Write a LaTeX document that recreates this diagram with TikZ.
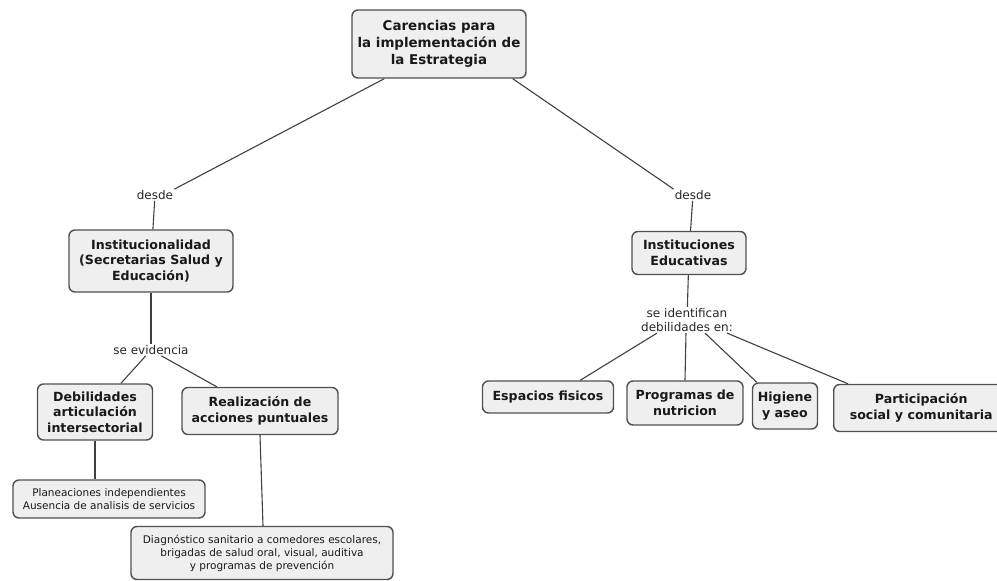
\documentclass[tikz,border=0pt]{standalone}
\usepackage{fontspec}
\setmainfont{DejaVu Sans}
\usetikzlibrary{calc}
\definecolor{boxfill}{HTML}{EFEFEF}
\definecolor{boxdraw}{HTML}{505050}
\definecolor{linec}{HTML}{404040}
\begin{document}
\begin{tikzpicture}[x=1pt,y=-1pt,
  concept/.style={draw=boxdraw,fill=boxfill,line width=1.4pt,rounded corners=6pt,align=center,font=\fontsize{12.6}{15.5}\selectfont\bfseries,inner sep=2pt,text=black!90},
  small/.style={draw=boxdraw,fill=boxfill,line width=1.4pt,rounded corners=6pt,align=center,font=\fontsize{10.5}{13}\selectfont,inner sep=2pt,text=black!90},
  linklbl/.style={align=center,font=\fontsize{12}{14.5}\selectfont,inner sep=1pt,text=black!85},
  conn/.style={draw=linec,line width=1.1pt}]
\useasboundingbox (0,0) rectangle (997,581);
\node[concept,minimum width=174pt,minimum height=68pt,font=\fontsize{13.4}{17}\selectfont\bfseries] (top) at (439,44) {Carencias para\\la implementación de\\la Estrategia};
\node[linklbl] (d1) at (155,195) {desde};
\node[concept,minimum width=164pt,minimum height=62pt] (inst) at (151,261) {Institucionalidad\\(Secretarias Salud y\\Educación)};
\node[linklbl] (ev) at (151,350) {se evidencia};
\node[concept,minimum width=115pt,minimum height=56pt] (deb) at (95,412) {Debilidades\\articulación\\intersectorial};
\node[concept,minimum width=156pt,minimum height=47pt] (real) at (260,411) {Realización de\\acciones puntuales};
\node[small,minimum width=192pt,minimum height=38pt] (plan) at (109,499) {Planeaciones independientes\\Ausencia de analisis de servicios};
\node[small,minimum width=262pt,minimum height=53pt] (diag) at (262,553) {Diagnóstico sanitario a comedores escolares,\\brigadas de salud oral, visual, auditiva\\y programas de prevención};
\node[linklbl] (d2) at (693,195) {desde};
\node[concept,minimum width=114pt,minimum height=43pt] (ie) at (689,253) {Instituciones\\Educativas};
\node[linklbl] (ident) at (687,320) {se identifican\\debilidades en:};
\node[concept,minimum width=131pt,minimum height=32pt] (esp) at (548,397) {Espacios fisicos};
\node[concept,minimum width=116pt,minimum height=44pt] (prog) at (685,403) {Programas de\\nutricion};
\node[concept,minimum width=65pt,minimum height=46pt] (hig) at (785,406) {Higiene\\y aseo};
\node[concept,minimum width=175pt,minimum height=47pt,anchor=west] (part) at (833,408) {Participación\\social y comunitaria};
\coordinate (t1) at ($(top.south west)+(33,0)$);
\coordinate (t2) at ($(top.south east)+(-14,0)$);
\draw[conn] (t1) -- (d1.north east);
\draw[conn] (t2) -- (d2.north west);
\draw[conn] (d1) -- (inst);
\draw[conn] (inst) -- (ev);
\draw[conn] (ev) -- (deb);
\draw[conn] (ev) -- (real);
\draw[conn] (deb.south) -- (deb.south |- plan.north);
\draw[conn] (real.south) -- ($(real.south |- diag.north)+(3,0)$);
\draw[conn] (d2) -- (ie);
\draw[conn] (ie) -- (ident);
\draw[conn] ($(ident.south)+(-30,0)$) -- ($(esp.north east)+(-34,0)$);
\draw[conn] ($(ident.south)+(-1,0)$) -- (prog.north);
\draw[conn] ($(ident.south)+(18,0)$) -- ($(hig.north west)+(5,0)$);
\draw[conn] ($(ident.south)+(40,0)$) -- ($(part.north west)+(15,0)$);
\end{tikzpicture}
\end{document}
